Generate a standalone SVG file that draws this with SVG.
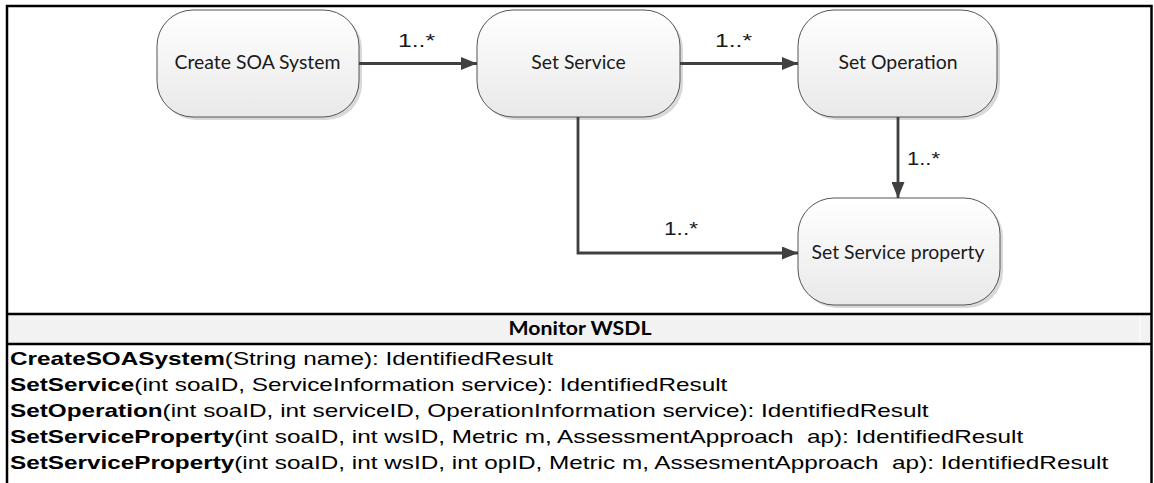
<svg xmlns="http://www.w3.org/2000/svg" width="1154" height="483" viewBox="0 0 1154 483">
  <defs>
    <linearGradient id="nodeFill" x1="0" y1="0" x2="0" y2="1">
      <stop offset="0" stop-color="#ffffff"/>
      <stop offset="1" stop-color="#e9e9e9"/>
    </linearGradient>
    <marker id="arrow" viewBox="0 0 16 13" refX="16" refY="6.5" markerWidth="16" markerHeight="13" markerUnits="userSpaceOnUse" orient="auto">
      <path d="M0,0 L16,6.5 L0,13 Z" fill="#404040"/>
    </marker>
    <style>
      .shadow { fill: #d9d9d9; }
      .box { fill: url(#nodeFill); stroke: #555555; stroke-width: 1; }
      .label { font-family: Lato, "Open Sans", "Liberation Sans", sans-serif; font-size: 19.4px; fill: #1a1a1a; text-anchor: middle; }
      .mult { font-family: "Liberation Sans", Arial, sans-serif; font-size: 18px; fill: #1a1a1a; }
      .edge { fill: none; stroke: #404040; stroke-width: 2.8; }
      .frame { fill: none; stroke: #000000; stroke-width: 2.5; }
      .head { font-family: Lato, "Open Sans", "Liberation Sans", sans-serif; font-size: 18px; font-weight: bold; fill: #000; text-anchor: middle; }
      .sig { font-family: "Liberation Sans", Arial, sans-serif; font-size: 17.5px; fill: #000; }
      .sig tspan.b { font-weight: bold; }
    </style>
  </defs>

  <rect width="1154" height="483" fill="#ffffff"/>

  <!-- table frame -->
  <rect x="7" y="314" width="1144" height="30" fill="#f2f2f2"/>
  <line x1="1140" y1="315" x2="1140" y2="343" stroke="#ffffff" stroke-width="1"/>
  <path class="frame" d="M7,483 V6 H1151.5 V483"/>
  <line class="frame" x1="7" y1="314" x2="1151.5" y2="314"/>
  <line class="frame" x1="7" y1="344" x2="1151.5" y2="344"/>

  <!-- nodes -->
  <g id="create-soa-system">
    <rect class="shadow" x="160" y="13" width="202" height="107" rx="36"/>
    <rect class="box" x="157" y="10" width="202" height="107" rx="36"/>
    <text class="label" x="257.5" y="69">Create SOA System</text>
  </g>
  <g id="set-service">
    <rect class="shadow" x="480" y="13" width="203" height="107" rx="36"/>
    <rect class="box" x="477" y="10" width="203" height="107" rx="36"/>
    <text class="label" x="578.5" y="69">Set Service</text>
  </g>
  <g id="set-operation">
    <rect class="shadow" x="801" y="13" width="199" height="107" rx="36"/>
    <rect class="box" x="798" y="10" width="199" height="107" rx="36"/>
    <text class="label" x="898" y="69">Set Operation</text>
  </g>
  <g id="set-service-property">
    <rect class="shadow" x="801" y="201" width="202" height="107" rx="36"/>
    <rect class="box" x="798" y="198" width="202" height="107" rx="36"/>
    <text class="label" x="898" y="259">Set Service property</text>
  </g>

  <!-- connectors -->
  <g id="connectors">
    <line class="edge" x1="359" y1="63.5" x2="477" y2="63.5" marker-end="url(#arrow)"/>
    <line class="edge" x1="680" y1="63.5" x2="798" y2="63.5" marker-end="url(#arrow)"/>
    <line class="edge" x1="898" y1="117" x2="898" y2="198" marker-end="url(#arrow)"/>
    <path class="edge" d="M578,117 V253 H798" marker-end="url(#arrow)"/>
    <text class="mult" x="398" y="47" textLength="37" lengthAdjust="spacingAndGlyphs">1..*</text>
    <text class="mult" x="715" y="47" textLength="37" lengthAdjust="spacingAndGlyphs">1..*</text>
    <text class="mult" x="907" y="165" textLength="33" lengthAdjust="spacingAndGlyphs">1..*</text>
    <text class="mult" x="664" y="235" textLength="34" lengthAdjust="spacingAndGlyphs">1..*</text>
  </g>

  <!-- interface listing: operations are set wide, so the block is stretched horizontally -->
  <text class="head" x="580" y="335" textLength="143" lengthAdjust="spacingAndGlyphs">Monitor WSDL</text>
  <g transform="translate(10,0) scale(1.39,1)">
    <text class="sig" x="0" y="365"><tspan class="b">CreateSOASystem</tspan>(String name): IdentifiedResult</text>
    <text class="sig" x="0" y="391"><tspan class="b">SetService</tspan>(int soaID, ServiceInformation service): IdentifiedResult</text>
    <text class="sig" x="0" y="417"><tspan class="b">SetOperation</tspan>(int soaID, int serviceID, OperationInformation service): IdentifiedResult</text>
    <text class="sig" x="0" y="443"><tspan class="b">SetServiceProperty</tspan>(int soaID, int wsID, Metric m, AssessmentApproach&#160; ap): IdentifiedResult</text>
    <text class="sig" x="0" y="469"><tspan class="b">SetServiceProperty</tspan>(int soaID, int wsID, int opID, Metric m, AssesmentApproach&#160; ap): IdentifiedResult</text>
  </g>
</svg>
